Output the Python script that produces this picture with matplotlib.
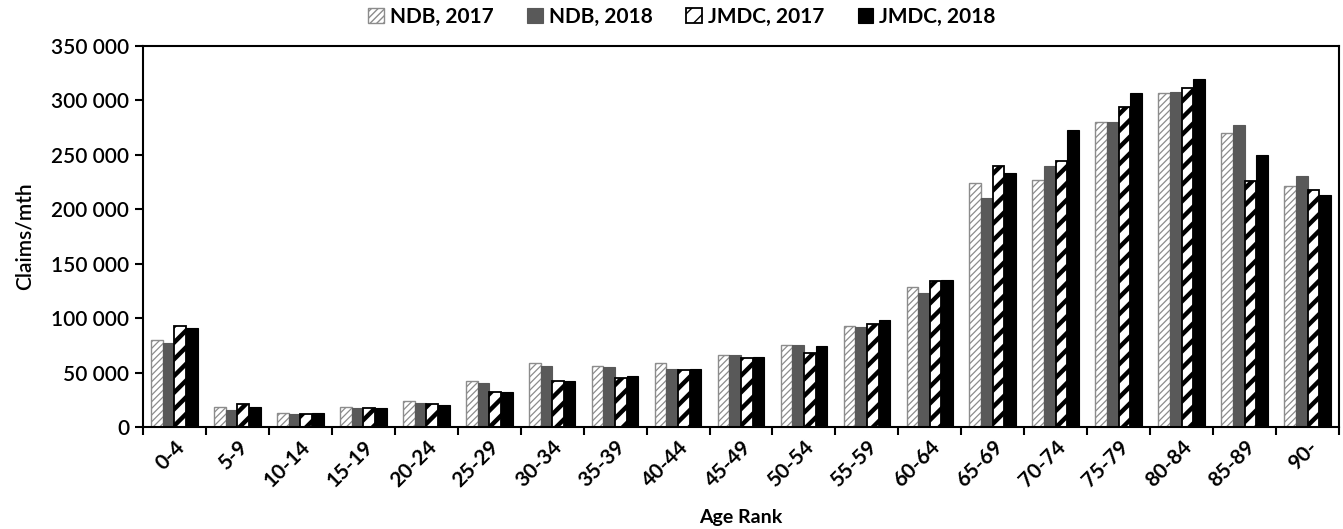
import matplotlib
matplotlib.use("Agg")
import matplotlib.pyplot as plt
import numpy as np
from matplotlib.ticker import FuncFormatter, MultipleLocator

categories = ["0-4", "5-9", "10-14", "15-19", "20-24", "25-29", "30-34", "35-39",
              "40-44", "45-49", "50-54", "55-59", "60-64", "65-69", "70-74",
              "75-79", "80-84", "85-89", "90-"]
ndb_2017 = [80000, 18000, 13000, 18000, 24000, 42000, 59000, 56000, 59000, 66000,
            75000, 93000, 129000, 224000, 227000, 280000, 307000, 270000, 221000]
ndb_2018 = [77000, 16000, 12000, 17000, 22000, 40000, 56000, 55000, 53000, 66000,
            75000, 92000, 123000, 210000, 240000, 280000, 308000, 277000, 231000]
jmdc_2017 = [93000, 21000, 12000, 17000, 21000, 32000, 42000, 45000, 52000, 63000,
             68000, 95000, 134000, 240000, 244000, 294000, 311000, 226000, 218000]
jmdc_2018 = [91000, 18000, 13000, 17000, 20000, 32000, 42000, 47000, 53000, 64000,
             74000, 98000, 135000, 233000, 273000, 307000, 320000, 250000, 213000]
series_names = ["NDB, 2017", "NDB, 2018", "JMDC, 2017", "JMDC, 2018"]

plt.rcParams['font.family'] = ['Lato', 'DejaVu Sans']

fig = plt.figure(figsize=(13.43, 5.29), dpi=100)
ax = fig.add_axes([143/1343, 1 - 427/529, (1339-143)/1343, (427-46)/529])

x = np.arange(len(categories))
w = 0.185
styles = [
    dict(facecolor="white", edgecolor="#8c8c8c", hatch="/////", hlw=0.9, lw=1.0),
    dict(facecolor="#595959", edgecolor="#595959", hatch=None, hlw=1.0, lw=0.8),
    dict(facecolor="white", edgecolor="black", hatch="//", hlw=3.2, lw=1.3),
    dict(facecolor="black", edgecolor="black", hatch=None, hlw=1.0, lw=0.8),
]
data = [ndb_2017, ndb_2018, jmdc_2017, jmdc_2018]
handles = []
for i, (vals, st, name) in enumerate(zip(data, styles, series_names)):
    plt.rcParams['hatch.linewidth'] = st['hlw']
    bars = ax.bar(x + (i - 1.5) * w, vals, width=w, facecolor=st['facecolor'],
                  edgecolor=st['edgecolor'], hatch=st['hatch'], linewidth=st['lw'],
                  label=name, zorder=2)
    for b in bars:
        if hasattr(b, "set_hatch_linewidth"):
            b.set_hatch_linewidth(st['hlw'])
    handles.append(bars)

ax.set_xlim(-0.5, len(categories) - 0.5)
ax.set_ylim(0, 350000)
ax.yaxis.set_major_locator(MultipleLocator(50000))
ax.yaxis.set_major_formatter(FuncFormatter(lambda v, p: f"{int(v):,}".replace(",", " ")))

ax.set_xticks(x)
ax.set_xticklabels(categories, rotation=45, ha="right", rotation_mode="anchor",
                   fontsize=15, fontweight="bold")
ax.tick_params(axis="x", which="major", length=0, pad=7)
ax.set_xticks(np.arange(-0.5, len(categories) + 0.5, 1), minor=True)
ax.tick_params(axis="x", which="minor", length=6, width=1.5, direction="out")
ax.tick_params(axis="y", length=6, width=1.5, direction="out", labelsize=15, pad=4)
for t in ax.get_yticklabels():
    t.set_fontweight("semibold")

for s in ax.spines.values():
    s.set_linewidth(1.5)
    s.set_color("black")

ax.set_ylabel("Claims/mth", fontsize=15, fontweight="semibold", labelpad=12)
ax.set_xlabel("Age Rank", fontsize=14, fontweight="bold", va="center")
ax.xaxis.set_label_coords(0.5, -(518 - 427) / 381)

leg = fig.legend(handles=handles, labels=series_names, loc="center",
                 bbox_to_anchor=(682/1343, 1 - 17/529), ncol=4, frameon=False,
                 prop=dict(size=15, weight="bold"), handlelength=0.75,
                 handleheight=0.75, handletextpad=0.3, columnspacing=1.6)

fig.savefig("out.png", dpi=100)
